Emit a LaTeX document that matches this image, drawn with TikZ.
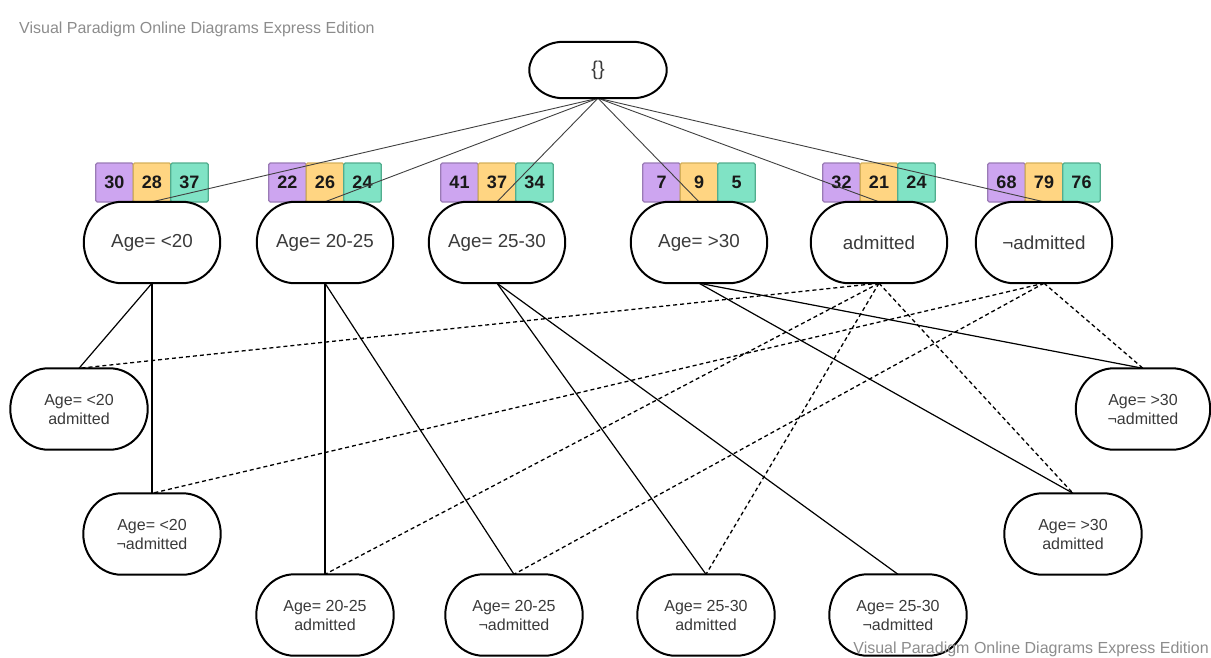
\documentclass[tikz,border=0pt]{standalone}
\usepackage{fontspec}
\setmainfont{Liberation Sans}
\usetikzlibrary{calc}
\definecolor{purpfill}{HTML}{CDA5F0}
\definecolor{purpdraw}{HTML}{9A7BB5}
\definecolor{yelfill}{HTML}{FFD582}
\definecolor{yeldraw}{HTML}{D4B05A}
\definecolor{grnfill}{HTML}{80E3C5}
\definecolor{grndraw}{HTML}{52AD8E}
\definecolor{txt}{HTML}{3A3A3A}
\definecolor{wmgray}{HTML}{8C8C8C}
\begin{document}
\begin{tikzpicture}[x=1pt,y=-1pt,
  pill/.style={inner sep=0pt, text=txt, align=center},
  topnode/.style={pill, minimum width=137pt, minimum height=56pt, font=\fontsize{20}{24}\selectfont},
  lvone/.style={pill, minimum width=136pt, minimum height=81pt, font=\fontsize{18.8}{22}\selectfont},
  lvtwo/.style={pill, minimum width=137pt, minimum height=81pt, font=\fontsize{16}{19}\selectfont},
  cnt/.style={draw, line width=1.1pt, rounded corners=1.5pt, minimum width=37.5pt, minimum height=39pt, inner sep=0pt, font=\fontsize{18}{20}\selectfont\bfseries, text=black!90},
  pbox/.style={cnt, fill=purpfill, draw=purpdraw},
  ybox/.style={cnt, fill=yelfill, draw=yeldraw},
  gbox/.style={cnt, fill=grnfill, draw=grndraw},
  rootline/.style={draw=black!75, line width=0.9pt},
  solidline/.style={draw=black, line width=1.2pt},
  dashline/.style={draw=black, line width=1.3pt, dash pattern=on 4pt off 3pt},
  border/.style={draw=black, line width=2pt},
  wmtext/.style={text=wmgray, font=\fontsize{16}{19}\selectfont, inner sep=0pt}
]
\useasboundingbox (0,0) rectangle (1211,657);

% count boxes
\foreach \i/\cx/\a/\b/\c in {1/152/30/28/37, 2/325/22/26/24, 3/497/41/37/34, 4/699/7/9/5, 5/879/32/21/24, 6/1044/68/79/76} {
  \node[pbox] (p\i) at (\cx-37.5,182.5) {\a};
  \node[ybox] (y\i) at (\cx,182.5) {\b};
  \node[gbox] (g\i) at (\cx+37.5,182.5) {\c};
}

% nodes
\node[topnode] (root) at (598,70) {\{\}};
\node[lvone] (n1) at (152,242.5) {Age= <20};
\node[lvone] (n2) at (325,242.5) {Age= 20-25};
\node[lvone] (n3) at (497,242.5) {Age= 25-30};
\node[lvone] (n4) at (699,242.5) {Age= >30};
\node[lvone] (n5) at (879,242.5) {admitted};
\node[lvone] (n6) at (1044,242.5) {¬admitted};

\node[lvtwo] (a1) at (79,409) {Age= <20\\admitted};
\node[lvtwo] (b1) at (152,534) {Age= <20\\¬admitted};
\node[lvtwo] (a2) at (325,615) {Age= 20-25\\admitted};
\node[lvtwo] (b2) at (514,615) {Age= 20-25\\¬admitted};
\node[lvtwo] (a3) at (706,615) {Age= 25-30\\admitted};
\node[lvtwo] (b3) at (898,615) {Age= 25-30\\¬admitted};
\node[lvtwo] (a4) at (1073,534) {Age= >30\\admitted};
\node[lvtwo, minimum width=134pt] (b4) at (1143,409) {Age= >30\\¬admitted};

% root connectors
\foreach \k in {1,...,6} { \draw[rootline] (root.south) -- (n\k.north); }

% solid connectors
\draw[solidline] (n1.south) -- (a1.north);
\draw[solidline] (n1.south) -- (b1.north);
\draw[solidline] (n2.south) -- (a2.north);
\draw[solidline] (n2.south) -- (b2.north);
\draw[solidline] (n3.south) -- (a3.north);
\draw[solidline] (n3.south) -- (b3.north);
\draw[solidline] (n4.south) -- (b4.north);
\draw[solidline] (n4.south) -- (a4.north);

% dashed connectors
\draw[dashline] (n5.south) -- (a1.north);
\draw[dashline] (n5.south) -- (a2.north);
\draw[dashline] (n5.south) -- (a3.north);
\draw[dashline] (n5.south) -- (a4.north);
\draw[dashline] (n6.south) -- (b1.north);
\draw[dashline] (n6.south) -- (b2.north);
\draw[dashline] (n6.south) -- (b4.north);

% pill borders
\foreach \nd/\rr in {root/34, n1/38, n2/38, n3/38, n4/38, n5/38, n6/38, a1/38, b1/38, a2/38, b2/38, a3/38, b3/38, a4/38, b4/38} {
  \draw[border] let \p1=(\nd.north west), \p2=(\nd.south east), \n1={0.5*(\y1-\y2)} in
    (\x1+\rr pt,\y1) -- (\x2-\rr pt,\y1)
    arc[start angle=90, end angle=-90, x radius=\rr pt, y radius=\n1]
    -- (\x1+\rr pt,\y2)
    arc[start angle=270, end angle=90, x radius=\rr pt, y radius=\n1] -- cycle;
}

% watermarks
\node[wmtext, anchor=west] (wm1) at (19,29) {Visual Paradigm Online Diagrams Express Edition};
\node[wmtext, anchor=east] (wm2) at (1209,649) {Visual Paradigm Online Diagrams Express Edition};
\end{tikzpicture}
\end{document}
